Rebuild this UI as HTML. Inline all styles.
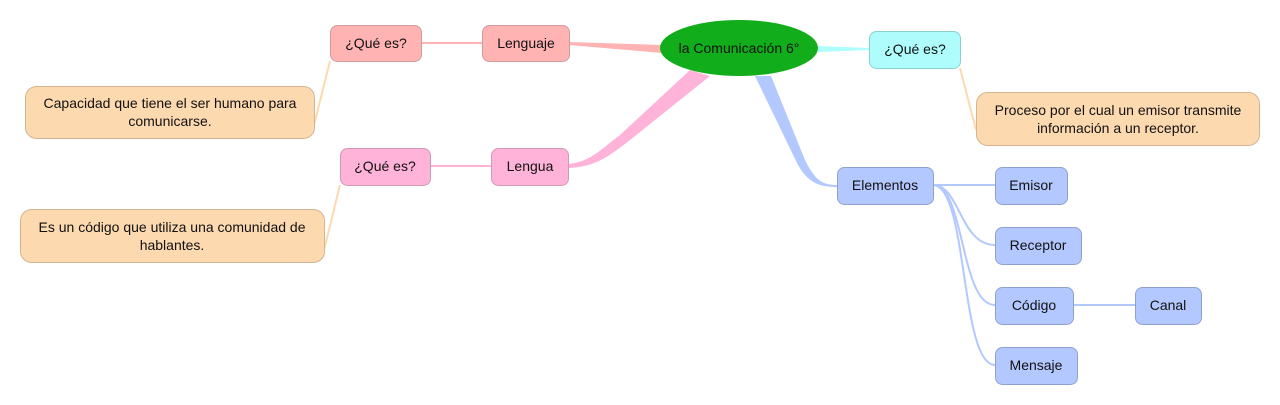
<!DOCTYPE html>
<html><head><meta charset="utf-8"><style>
html,body{margin:0;padding:0;background:#fff;width:1280px;height:405px;overflow:hidden}
svg text{font-family:"Liberation Sans",Arial,sans-serif;font-size:14px;fill:#111}
</style></head><body>
<svg width="1280" height="405" viewBox="0 0 1280 405" xmlns="http://www.w3.org/2000/svg">
<path d="M569,42 L662,45 L662,53 L569,45 Z" fill="#ffb3b3"/>
<path d="M568,164 C590,162 600,150 620,135 L690,70 L710,76 L630,140 C605,160 592,167 568,168 Z" fill="#ffb3d9"/>
<path d="M818,46 L869,48 L869,50 L818,52 Z" fill="#aefcfc"/>
<path d="M755,76 L771,76 L805,160 C815,180 822,185 837,185 L837,187 C818,187 808,182 798,165 Z" fill="#b3c8ff"/>
<g fill="none" stroke-width="2">
<path d="M421,43 L482,43" stroke="#ffb3b3"/>
<path d="M430,166 L491,166" stroke="#ffb3d9"/>
<path d="M330,61 L314,125" stroke="#fdd9b0"/>
<path d="M340,185 L324,250" stroke="#fdd9b0"/>
<path d="M960,68 L976,130" stroke="#fdd9b0"/>
<g stroke="#b3c8ff">
<path d="M933,185 L995,185"/>
<path d="M933,185 C960,185 960,245 995,245"/>
<path d="M933,185 C965,185 960,305 995,305"/>
<path d="M933,185 C968,185 960,365 995,365"/>
<path d="M1073,305 L1135,305"/>
</g>
</g>
<ellipse cx="739" cy="48" rx="79" ry="28" fill="#12ad1a"/>
<text x="739" y="53" text-anchor="middle">la Comunicación 6°</text>
<g stroke-width="1">
<rect x="482.5" y="25.5" width="87" height="36" rx="7" fill="#ffb3b3" stroke="#cf9a9a"/>
<rect x="330.5" y="25.5" width="91" height="36" rx="7" fill="#ffb3b3" stroke="#cf9a9a"/>
<rect x="25.5" y="86.5" width="289" height="52" rx="11" fill="#fdd9b0" stroke="#d4b591"/>
<rect x="491.5" y="148.5" width="77" height="37" rx="7" fill="#ffb3d9" stroke="#cf9ab3"/>
<rect x="340.5" y="148.5" width="90" height="37" rx="7" fill="#ffb3d9" stroke="#cf9ab3"/>
<rect x="20.5" y="209.5" width="304" height="53" rx="11" fill="#fdd9b0" stroke="#d4b591"/>
<rect x="869.5" y="31.5" width="91" height="37" rx="7" fill="#aefcfc" stroke="#8ccfcf"/>
<rect x="976.5" y="92.5" width="283" height="53" rx="11" fill="#fdd9b0" stroke="#d4b591"/>
<rect x="837.5" y="167.5" width="96" height="37" rx="7" fill="#b3c8ff" stroke="#8fa0cc"/>
<rect x="995.5" y="167.5" width="72" height="37" rx="7" fill="#b3c8ff" stroke="#8fa0cc"/>
<rect x="995.5" y="227.5" width="86" height="37" rx="7" fill="#b3c8ff" stroke="#8fa0cc"/>
<rect x="995.5" y="287.5" width="78" height="37" rx="7" fill="#b3c8ff" stroke="#8fa0cc"/>
<rect x="1135.5" y="287.5" width="66" height="37" rx="7" fill="#b3c8ff" stroke="#8fa0cc"/>
<rect x="995.5" y="347.5" width="82" height="37" rx="7" fill="#b3c8ff" stroke="#8fa0cc"/>
</g>
<g text-anchor="middle">
<text x="526" y="48">Lenguaje</text>
<text x="376" y="48">¿Qué es?</text>
<text x="170" y="108">Capacidad que tiene el ser humano para</text>
<text x="170" y="126">comunicarse.</text>
<text x="530" y="171">Lengua</text>
<text x="385" y="171">¿Qué es?</text>
<text x="172" y="232">Es un código que utiliza una comunidad de</text>
<text x="172" y="250">hablantes.</text>
<text x="915" y="54">¿Qué es?</text>
<text x="1118" y="115">Proceso por el cual un emisor transmite</text>
<text x="1118" y="133">información a un receptor.</text>
<text x="885" y="190">Elementos</text>
<text x="1031" y="190">Emisor</text>
<text x="1038" y="250">Receptor</text>
<text x="1034" y="310">Código</text>
<text x="1168" y="310">Canal</text>
<text x="1036" y="370">Mensaje</text>
</g>
</svg>
</body></html>
